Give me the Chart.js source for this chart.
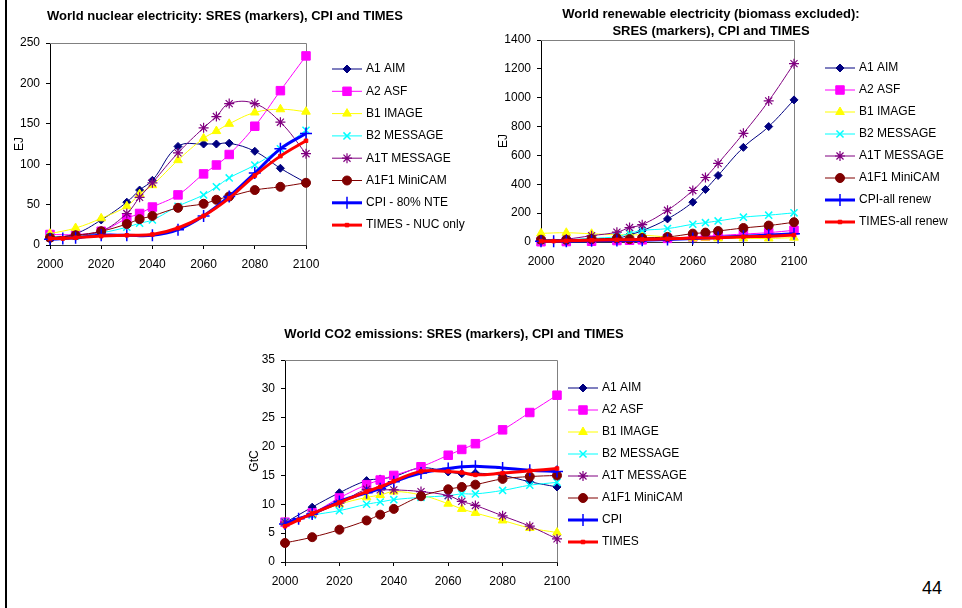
<!DOCTYPE html>
<html>
<head>
<meta charset="utf-8">
<script src="https://cdn.jsdelivr.net/npm/chart.js@4.4.0/dist/chart.umd.min.js"></script>
<style>
body { margin: 0; background: #fff; width: 962px; height: 608px; position: relative; overflow: hidden; font-family: "Liberation Sans", Arial, sans-serif; }
canvas { position: absolute; }
#nuc { left: 0; top: 0; }
#ren { left: 480px; top: 0; }
#co2 { left: 230px; top: 320px; }
#edge { position: absolute; left: 5px; top: 0; width: 2px; height: 608px; background: #000; }
#page { position: absolute; left: 922px; top: 578px; font-size: 18px; color: #000; }
</style>
</head>
<body>
<div id="edge"></div>
<canvas id="nuc" width="480" height="300"></canvas>
<canvas id="ren" width="482" height="300"></canvas>
<canvas id="co2" width="480" height="288"></canvas>
<div id="page">44</div>
<script>
// SRES marker years and model (CPI / TIMES) years
var years = [2000, 2010, 2020, 2030, 2035, 2040, 2050, 2060, 2065, 2070, 2080, 2090, 2100];
var modelYears = [2000, 2005, 2010, 2020, 2030, 2040, 2050, 2060, 2070, 2080, 2090, 2100];
var co2ModelYears = [2000, 2005, 2010, 2020, 2030, 2035, 2040, 2050, 2060, 2065, 2070, 2080, 2090, 2100];

// World nuclear electricity, EJ
var nucA1 = [8, 14, 31, 53, 68, 80, 122, 125, 125, 126, 116, 95, 77];
var nucA2 = [13, 13, 17, 33, 39, 47, 62, 88, 99, 112, 147, 191, 234];
var nucB1 = [14, 21, 33, 48, 63, 74, 105, 132, 141, 150, 164, 168, 165];
var nucB2 = [10, 11, 15, 22, 27, 31, 48, 62, 72, 83, 99, 119, 142];
var nucA1T = [9, 12, 17, 39, 59, 77, 114, 145, 159, 175, 175, 152, 113];
var nucA1F1 = [9, 12, 17, 26, 32, 36, 46, 51, 56, 60, 68, 72, 77];
var nucCpi = [7, 8, 9, 12, 12, 12, 19, 36, 60, 89, 119, 138];
var nucTimes = [8, 8, 9, 11, 12, 13, 21, 36, 58, 86, 110, 129];

// World renewable electricity (biomass excluded), EJ
var renA1 = [7, 15, 20, 25, 50, 78, 160, 276, 364, 461, 656, 800, 985];
var renA2 = [2, 3, 5, 10, 12, 15, 25, 35, 40, 45, 55, 65, 81];
var renB1 = [60, 64, 57, 50, 50, 48, 35, 25, 30, 25, 25, 25, 30];
var renB2 = [10, 15, 25, 37, 60, 80, 93, 123, 134, 146, 172, 186, 202];
var renA1T = [10, 20, 44, 68, 100, 120, 220, 357, 447, 545, 753, 978, 1236];
var renA1F1 = [16, 15, 20, 25, 20, 28, 35, 58, 65, 76, 97, 114, 137];
var renCpi = [5, 5, 5, 8, 10, 12, 18, 25, 32, 40, 48, 58];
var renTimes = [6, 6, 8, 12, 15, 18, 22, 27, 30, 36, 40, 48];

// World CO2 emissions, GtC
var co2A1 = [6.8, 9.5, 12.0, 14.1, 14.4, 14.8, 16.3, 15.6, 15.3, 15.4, 15.0, 13.9, 13.0];
var co2A2 = [6.9, 8.5, 11.1, 13.4, 14.2, 15.0, 16.5, 18.5, 19.5, 20.5, 22.9, 25.9, 28.9];
var co2B1 = [6.8, 8.3, 10.0, 11.2, 11.6, 12.2, 11.6, 10.1, 9.2, 8.5, 7.2, 5.9, 5.1];
var co2B2 = [6.9, 8.1, 8.9, 10.0, 10.4, 10.8, 11.2, 11.5, 11.8, 11.8, 12.4, 13.3, 13.8];
var co2A1T = [6.9, 8.3, 10.2, 12.6, 12.5, 12.5, 12.2, 11.5, 10.5, 9.8, 8.0, 6.2, 4.0];
var co2A1F1 = [3.3, 4.3, 5.6, 7.2, 8.2, 9.2, 11.4, 12.6, 13.0, 13.4, 14.4, 14.8, 15.0];
var co2Cpi = [6.6, 7.5, 8.3, 10.5, 12.0, 12.7, 13.9, 15.4, 16.2, 16.5, 16.6, 16.3, 15.9, 15.7];
var co2Times = [6.2, 7.3, 8.4, 10.3, 12.2, 13.0, 14.0, 15.7, 15.7, 15.5, 15.1, 15.4, 15.8, 16.2];

var sresNames = ['A1 AIM', 'A2 ASF', 'B1 IMAGE', 'B2 MESSAGE', 'A1T MESSAGE', 'A1F1 MiniCAM'];

var styles = [
    { color: '#000080', point: 'rectRot', radius: 4, width: 1, pw: 1 },
    { color: '#FF00FF', point: 'rect', radius: 6, width: 1, pw: 1 },
    { color: '#FFFF00', point: 'triangle', radius: 5, width: 1, pw: 1 },
    { color: '#00FFFF', point: 'crossRot', radius: 5, width: 1, pw: 1.5 },
    { color: '#800080', point: 'star', radius: 5, width: 1, pw: 1.2 },
    { color: '#800000', point: 'circle', radius: 4.5, width: 1, pw: 1 },
    { color: '#0000FF', point: 'cross', radius: 6, width: 3, pw: 1.5 },
    { color: '#FF0000', point: 'rect', radius: 2.5, width: 3, pw: 1 }
];

Chart.defaults.font.family = '"Liberation Sans", Arial, sans-serif';
Chart.defaults.font.size = 12;
Chart.defaults.color = '#000';

function pts(xs, ys) {
    return xs.map(function (x, i) { return { x: x, y: ys[i] }; });
}

var sheet = {
    id: 'sheet',
    beforeDatasetsDraw: function (chart) {
        var a = chart.chartArea, ctx = chart.ctx;
        ctx.save();
        ctx.strokeStyle = '#808080';
        ctx.lineWidth = 1;
        ctx.beginPath();
        ctx.moveTo(a.left, Math.round(a.top) + 0.5);
        ctx.lineTo(Math.round(a.right) + 0.5, Math.round(a.top) + 0.5);
        ctx.lineTo(Math.round(a.right) + 0.5, a.bottom);
        ctx.stroke();
        ctx.restore();
    },
    afterDraw: function (chart, args, o) {
        var ctx = chart.ctx;
        ctx.save();
        ctx.fillStyle = '#000';
        ctx.textAlign = 'center';
        ctx.textBaseline = 'middle';
        ctx.font = 'bold 13px "Liberation Sans", Arial, sans-serif';
        o.title.forEach(function (t, i) {
            ctx.fillText(t, o.titleX, o.titleY + i * 17);
        });
        ctx.font = '12px "Liberation Sans", Arial, sans-serif';
        ctx.textAlign = 'left';
        chart.data.datasets.forEach(function (ds, i) {
            var y = o.legY + i * o.legStep;
            ctx.strokeStyle = ds.borderColor;
            ctx.lineWidth = ds.borderWidth;
            ctx.beginPath();
            ctx.moveTo(o.legX, y);
            ctx.lineTo(o.legX + 30, y);
            ctx.stroke();
            ctx.fillStyle = ds.pointBackgroundColor;
            ctx.strokeStyle = ds.pointBorderColor;
            ctx.lineWidth = ds.pointBorderWidth;
            Chart.helpers.drawPoint(ctx, {
                pointStyle: ds.pointStyle, radius: ds.pointRadius, rotation: 0, borderWidth: ds.pointBorderWidth
            }, o.legX + 15, y);
            ctx.fillStyle = '#000';
            ctx.fillText(ds.label, o.legX + 34, y);
        });
        ctx.restore();
    }
};

function makeChart(id, cfg) {
    var series = cfg.sres.map(function (vals, i) {
        return { label: sresNames[i], data: pts(years, vals) };
    });
    series.push({ label: cfg.cpiLabel, data: pts(cfg.modelYears, cfg.cpi) });
    series.push({ label: cfg.timesLabel, data: pts(cfg.modelYears, cfg.times) });
    var n = series.length;
    var datasets = series.map(function (s, i) {
        var st = styles[i];
        return {
            label: s.label,
            data: s.data,
            borderColor: st.color,
            backgroundColor: st.color,
            borderWidth: st.width,
            pointStyle: st.point,
            pointRadius: st.radius,
            pointBackgroundColor: st.color,
            pointBorderColor: st.color,
            pointBorderWidth: st.pw,
            tension: 0.4,
            fill: false,
            clip: false,
            order: n - i
        };
    });
    return new Chart(document.getElementById(id), {
        type: 'line',
        data: { datasets: datasets },
        plugins: [sheet],
        options: {
            responsive: false,
            animation: false,
            events: [],
            layout: { padding: cfg.pad },
            plugins: {
                legend: { display: false },
                title: { display: false },
                tooltip: { enabled: false },
                sheet: cfg.sheet
            },
            scales: {
                x: {
                    type: 'linear',
                    min: 2000,
                    max: 2100,
                    grid: { drawOnChartArea: false, drawTicks: true, tickLength: 4, color: '#000' },
                    border: { display: true, color: '#333', width: 1 },
                    ticks: { stepSize: 20, padding: 8, callback: function (v) { return String(v); } },
                    afterFit: function (s) { s.height = 30; }
                },
                y: {
                    min: 0,
                    max: cfg.yMax,
                    grid: { drawOnChartArea: false, drawTicks: true, tickLength: 4, color: '#000' },
                    border: { display: true, color: '#000', width: 1 },
                    ticks: { stepSize: cfg.yStep, padding: 6, callback: function (v) { return String(v); } },
                    title: { display: true, text: cfg.yTitle, padding: { top: 2, bottom: 0 }, font: { size: 12 } },
                    afterFit: function (s) { s.width = cfg.yWidth; }
                }
            }
        }
    });
}

makeChart('nuc', {
    sres: [nucA1, nucA2, nucB1, nucB2, nucA1T, nucA1F1],
    modelYears: modelYears, cpi: nucCpi, times: nucTimes,
    cpiLabel: 'CPI - 80% NTE', timesLabel: 'TIMES - NUC only',
    yMax: 250, yStep: 50, yTitle: 'EJ', yWidth: 40,
    pad: { left: 10, right: 174, top: 43, bottom: 25 },
    sheet: { title: ['World nuclear electricity: SRES (markers), CPI and TIMES'], titleX: 225, titleY: 16,
             legX: 332, legY: 69, legStep: 22.3 }
});

makeChart('ren', {
    sres: [renA1, renA2, renB1, renB2, renA1T, renA1F1],
    modelYears: modelYears, cpi: renCpi, times: renTimes,
    cpiLabel: 'CPI-all renew', timesLabel: 'TIMES-all renew',
    yMax: 1400, yStep: 200, yTitle: 'EJ', yWidth: 47,
    pad: { left: 14, right: 168, top: 40, bottom: 28 },
    sheet: { title: ['World renewable electricity (biomass excluded):', 'SRES (markers), CPI and TIMES'], titleX: 231, titleY: 14,
             legX: 345, legY: 68, legStep: 22 }
});

makeChart('co2', {
    sres: [co2A1, co2A2, co2B1, co2B2, co2A1T, co2A1F1],
    modelYears: co2ModelYears, cpi: co2Cpi, times: co2Times,
    cpiLabel: 'CPI', timesLabel: 'TIMES',
    yMax: 35, yStep: 5, yTitle: 'GtC', yWidth: 40,
    pad: { left: 15, right: 153, top: 40, bottom: 16 },
    sheet: { title: ['World CO2 emissions: SRES (markers), CPI and TIMES'], titleX: 224, titleY: 14,
             legX: 338, legY: 68, legStep: 22 }
});
</script>
</body>
</html>
